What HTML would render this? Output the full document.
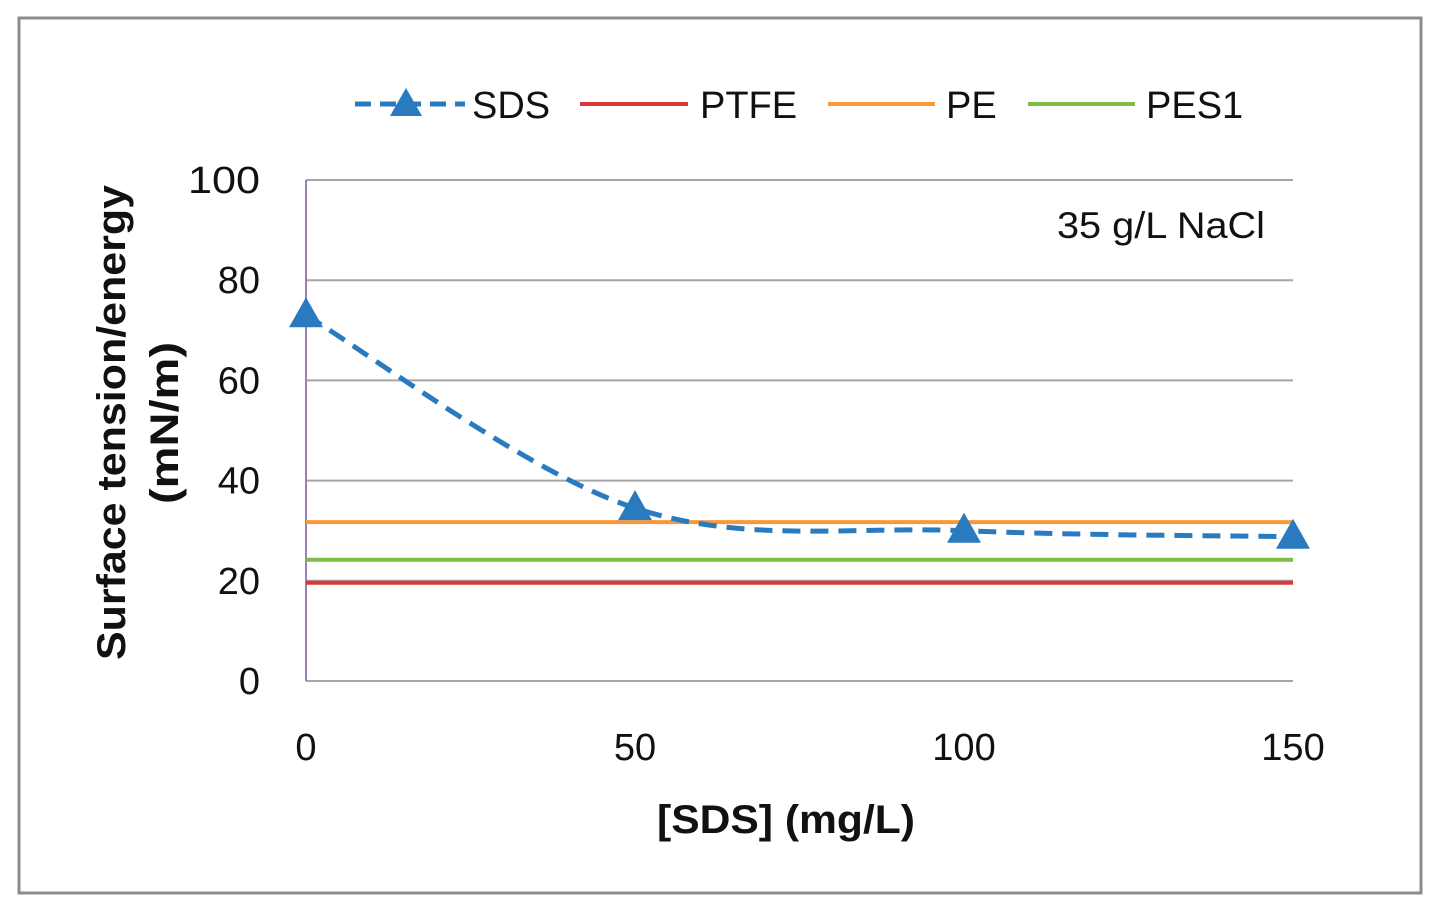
<!DOCTYPE html>
<html><head><meta charset="utf-8"><style>
body{margin:0;background:#fff;}
svg{display:block;font-family:"Liberation Sans",sans-serif;}
</style></head><body>
<svg width="1438" height="911">
<rect x="0" y="0" width="1438" height="911" fill="#fff"/>
<rect x="19" y="18" width="1402" height="875" fill="#fff" stroke="#8c8c8c" stroke-width="3"/>
<g id="grid"></g>
<g id="lines"></g>
<g id="labels"></g>
<text x="1057" y="238" font-size="37" textLength="208" lengthAdjust="spacingAndGlyphs" fill="#111">35 g/L NaCl</text>
<text x="657" y="833" font-size="40" font-weight="bold" textLength="258" lengthAdjust="spacingAndGlyphs" fill="#111">[SDS] (mg/L)</text>
<text transform="translate(125,660) rotate(-90)" font-size="40" font-weight="bold" textLength="475" lengthAdjust="spacingAndGlyphs" fill="#111">Surface tension/energy</text>
<text transform="translate(178,504) rotate(-90)" font-size="40" font-weight="bold" textLength="162" lengthAdjust="spacingAndGlyphs" fill="#111">(mN/m)</text>
<g>
<g><line x1="355" y1="104" x2="465" y2="104" stroke="#2a7ac0" stroke-width="5" stroke-dasharray="16,9"/><polygon points="406,88 390,116 422,116" fill="#2a7ac0"/><text x="472" y="118" font-size="38" fill="#111">SDS</text></g>
<g><line x1="580" y1="104" x2="688" y2="104" stroke="#d9383a" stroke-width="4"/><text x="700" y="118" font-size="38" fill="#111">PTFE</text></g>
<g><line x1="828" y1="104" x2="935" y2="104" stroke="#f7993a" stroke-width="4"/><text x="946" y="118" font-size="38" fill="#111">PE</text></g>
<g><line x1="1028" y1="104" x2="1135" y2="104" stroke="#7cbd42" stroke-width="4"/><text x="1146" y="118" font-size="38" fill="#111">PES1</text></g>
</g>
</svg>
<script>
const categories=[0,50,100,150];
const sdsValues=[73,34.5,30,28.8];
const ptfeValue=[19.6];
const peValue=[31.7];
const pes1Value=[24.2];
const yTicks=[0,20,40,60,80,100];
const xTicks=[0,50,100,150];
const NS="http://www.w3.org/2000/svg";
const X=v=>306+v/150*987, Y=v=>681-v/100*501;
function mk(tag,attrs,parent){const e=document.createElementNS(NS,tag);for(const k in attrs)e.setAttribute(k,attrs[k]);document.getElementById(parent).appendChild(e);return e;}
yTicks.forEach(t=>{
 const l=mk('line',{x1:306,x2:1293,y1:Y(t),y2:Y(t),stroke:'#a6a6a6','stroke-width':2},'grid');
 
 
 const tx=mk('text',{x:260,y:Y(t)+13,'font-size':38,'text-anchor':'end',fill:'#111'},'labels');tx.textContent=t;
 if(String(t).length===3){tx.setAttribute('textLength',72);tx.setAttribute('lengthAdjust','spacingAndGlyphs');}
 
 
});
const ax=mk('line',{x1:306,x2:306,y1:180,y2:681,stroke:'#9b7fb8','stroke-width':2},'grid');


xTicks.forEach(t=>{
 const tx=mk('text',{x:X(t),y:760,'font-size':38,'text-anchor':'middle',fill:'#111'},'labels');tx.textContent=t;
 
 
});
[[ptfeValue,'#d9383a','ptfe-line'],[pes1Value,'#7cbd42','pes1-line'],[peValue,'#f7993a','pe-line']].forEach(([v,c,n])=>{
 const l=mk('line',{x1:X(0),x2:X(150),y1:Y(v[0]),y2:Y(v[0]),stroke:c,'stroke-width':4},'lines');
 
 
});
const P=categories.map((c,i)=>[X(c),Y(sdsValues[i])]);
let d=`M${P[0][0]},${P[0][1]}`;
for(let i=0;i<P.length-1;i++){
 const p0=P[Math.max(i-1,0)],p1=P[i],p2=P[i+1],p3=P[Math.min(i+2,P.length-1)];
 const t=0.5/3;
 d+=` C${p1[0]+(p2[0]-p0[0])*t},${p1[1]+(p2[1]-p0[1])*t} ${p2[0]-(p3[0]-p1[0])*t},${p2[1]-(p3[1]-p1[1])*t} ${p2[0]},${p2[1]}`;
}
const s=mk('path',{d:d,fill:'none',stroke:'#2a7ac0','stroke-width':5,'stroke-dasharray':'18,10'},'lines');


P.forEach((p,i)=>{
 const m=mk('polygon',{points:`${p[0]},${p[1]-18} ${p[0]-17},${p[1]+12} ${p[0]+17},${p[1]+12}`,fill:'#2a7ac0'},'lines');
 
 
});
</script>
</body></html>
